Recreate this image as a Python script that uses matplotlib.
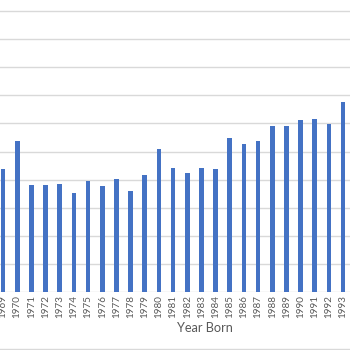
import matplotlib
matplotlib.use("Agg")
import matplotlib.pyplot as plt
from matplotlib.lines import Line2D

# birth years and the value plotted for each
years = [1969, 1970, 1971, 1972, 1973, 1974, 1975, 1976, 1977, 1978,
         1979, 1980, 1981, 1982, 1983, 1984, 1985, 1986, 1987, 1988,
         1989, 1990, 1991, 1992, 1993]
values = [4.39, 5.37, 3.82, 3.81, 3.83, 3.53, 3.95, 3.78, 4.02, 3.60,
          4.17, 5.08, 4.42, 4.22, 4.42, 4.37, 5.47, 5.28, 5.38, 5.92,
          5.91, 6.11, 6.16, 5.98, 6.77]
yticks = [0, 1, 2, 3, 4, 5, 6, 7, 8, 9, 10]

bar_color = "#4472C4"
grid_color = "#D9D9D9"
text_color = "#595959"

plt.rcParams['font.family'] = ['Lato', 'DejaVu Sans']

fig = plt.figure(figsize=(3.5, 3.5), dpi=100)
ax = fig.add_axes([0, 1 - 292 / 350., 1, 292 / 350.])

pos = list(range(len(years)))
ax.bar(pos, values, width=0.33, color=bar_color, zorder=3)

ax.set_xlim(-3 / 14.17, (350 - 3) / 14.17)
ax.set_ylim(0, 292 / 28.1)

for y in yticks:
    ax.axhline(y, color=grid_color, lw=1.0, zorder=1)

ax.set_yticks([])
ax.set_xticks(pos)
ax.set_xticklabels([str(y) for y in years], rotation=90,
                   fontsize=7.1, color=text_color)
ax.tick_params(axis='both', which='both', length=0, pad=2)

for s in ax.spines.values():
    s.set_visible(False)

ax.set_xlabel("Year Born", fontsize=9.2, color=text_color)
ax.xaxis.set_label_coords(205 / 350., -30 / 292.)

# light frame line along the bottom of the chart area
fig.add_artist(Line2D([0, 1], [1 - 348.5 / 350, 1 - 348.5 / 350],
                      color=grid_color, lw=1.0, transform=fig.transFigure))

fig.savefig("out.png", dpi=100)
